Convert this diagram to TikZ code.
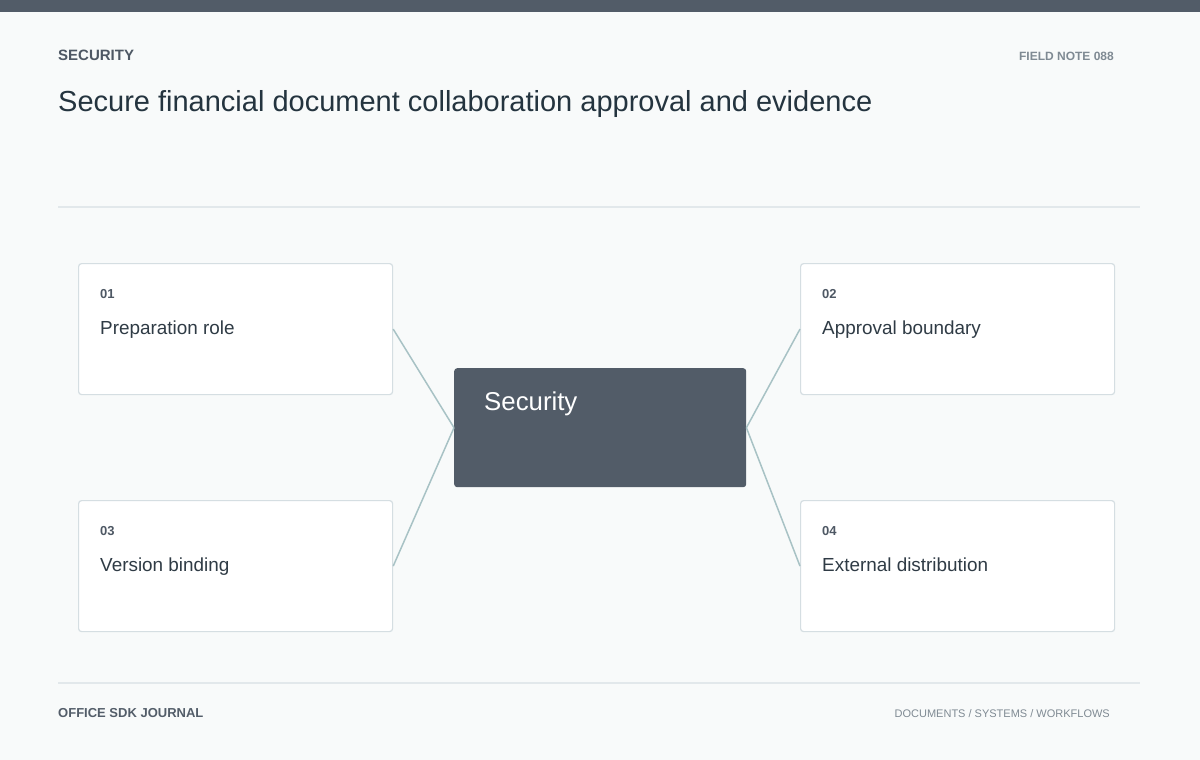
\documentclass[tikz,border=0pt]{standalone}
\usepackage{fontspec}
\setmainfont{Liberation Sans}
\usetikzlibrary{positioning}

\definecolor{slate}{HTML}{525C68}
\definecolor{page}{HTML}{F8FAFA}
\definecolor{rule line}{HTML}{E2E8EB}
\definecolor{card edge}{HTML}{D5DEE2}
\definecolor{link}{HTML}{A8C2C5}
\definecolor{muted}{HTML}{7F8A93}
\definecolor{heading}{HTML}{4E5864}
\definecolor{titleink}{HTML}{24343F}
\definecolor{cardink}{HTML}{2F3B45}

\def\cardwidth{314pt}
\def\cardheight{131pt}
\tikzset{
  card/.style={draw=card edge, fill=white, line width=1.2pt, rounded corners=3pt,
    minimum width=\cardwidth, minimum height=\cardheight, inner sep=0pt, anchor=north west},
  hub/.style={fill=slate, rounded corners=3pt, minimum width=292pt, minimum height=119pt,
    inner sep=0pt, anchor=north west},
  txt/.style={inner sep=0pt, anchor=base west}
  }
\tikzstyle{edge} = [draw, link, line width=1.5pt, -]
\tikzstyle{rule} = [draw, rule line, line width=1.3pt]

\begin{document}
\begin{tikzpicture}[x=1pt,y=-1pt]
   \useasboundingbox (0,0) rectangle (1200,760);
   \fill[page] (0,0) rectangle (1200,760);
   \fill[slate] (0,0) rectangle (1200,12);

   % header
   \node[txt, text=heading, font=\fontsize{15}{18}\selectfont\bfseries] (kicker) at (58,60) {SECURITY};
   \node[txt, anchor=base east, text=muted, font=\fontsize{12}{14}\selectfont\bfseries] (note) at (1114,60) {FIELD NOTE 088};
   \node[txt, text=titleink, font=\fontsize{29}{33}\selectfont] (title) at (58,111) {Secure financial document collaboration approval and evidence};
   \path[rule] (58,207) -- (1140,207);

   % centre block
   \node[hub] (hub) at (454,368) {};
   \node[txt, text=white, font=\fontsize{25.8}{30}\selectfont] (hubtext) at (484,410) {Security};

   % the four cards
   \foreach \n/\x/\y/\label in {01/78/263/Preparation role, 02/800/263/Approval boundary,
                                03/78/500/Version binding, 04/800/500/External distribution} {
     \node[card] (card\n) at (\x,\y) {};
     \node[txt, text=heading, font=\fontsize{13}{15}\selectfont\bfseries] (num\n) at (\x+22,\y+35) {\n};
     \node[txt, text=cardink, font=\fontsize{18.9}{22}\selectfont] (label\n) at (\x+22,\y+71) {\label};
   }

   \path[edge] (card01.east) -- (hub.west);
   \path[edge] (card03.east) -- (hub.west);
   \path[edge] (card02.west) -- (hub.east);
   \path[edge] (card04.west) -- (hub.east);

   % footer
   \path[rule] (58,683) -- (1140,683);
   \node[txt, text=heading!90!muted, font=\fontsize{13}{15}\selectfont\bfseries] (journal) at (58,717) {OFFICE SDK JOURNAL};
   \node[txt, anchor=base east, text=muted, font=\fontsize{11}{13}\selectfont] (tags) at (1110,717) {DOCUMENTS / SYSTEMS / WORKFLOWS};
\end{tikzpicture}
\end{document}
